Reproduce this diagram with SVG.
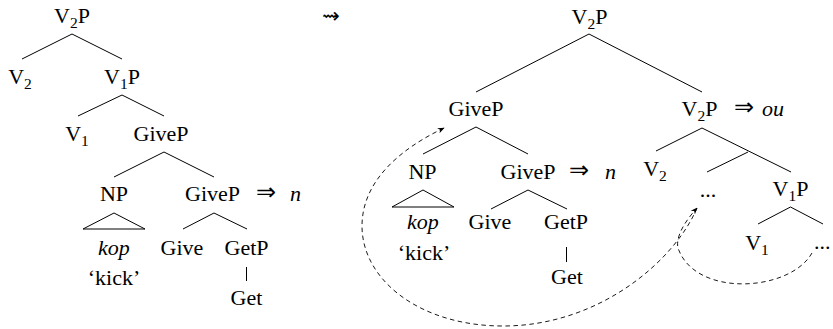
<svg xmlns="http://www.w3.org/2000/svg" width="833" height="329" viewBox="0 0 833 329">
<style>
.t{font-family:'Liberation Serif','Times New Roman','DejaVu Serif',serif;font-size:22px;fill:#000}
.m{text-anchor:middle}
.it{font-style:italic}
.sub{font-size:15.5px}
.arr{font-family:'DejaVu Sans',sans-serif;font-size:24px}
.sq{font-family:'DejaVu Sans',sans-serif;font-size:21px}
.e{stroke:#000;stroke-width:1;fill:none}
.d{stroke:#000;stroke-width:0.9;fill:none;stroke-dasharray:4.5 3.5}
</style>
<defs>
<marker id="ah" viewBox="0 0 10 10" refX="9" refY="5" markerWidth="7" markerHeight="7" markerUnits="userSpaceOnUse" orient="auto">
<path d="M0,1 L10,5 L0,9 L3,5 Z" fill="#000"/>
</marker>
</defs>
<rect width="833" height="329" fill="#fff"/>

<g class="t" font-family="Liberation Serif, Times New Roman, serif" font-size="22">
<!-- Left tree -->
<g id="L-V2P"><text class="m" x="72" y="23">V<tspan class="sub" dy="5">2</tspan><tspan dy="-5">P</tspan></text></g>
<g id="L-V2"><text class="m" x="20" y="84">V<tspan class="sub" dy="5">2</tspan></text></g>
<g id="L-V1P"><text class="m" x="122" y="84">V<tspan class="sub" dy="5">1</tspan><tspan dy="-5">P</tspan></text></g>
<g id="L-V1"><text class="m" x="77" y="141">V<tspan class="sub" dy="5">1</tspan></text></g>
<g id="L-GiveP"><text class="m" x="161" y="141">GiveP</text></g>
<g id="L-NP"><text class="m" x="114" y="201">NP</text></g>
<g id="L-GiveP2"><text class="m" x="212.5" y="201">GiveP</text><text class="arr" x="256" y="200">⇒</text><text class="it" x="290" y="201">n</text></g>
<g id="L-kop"><text class="m it" x="114" y="255">kop</text><text class="m" x="114" y="285">‘kick’</text></g>
<g id="L-Give"><text class="m" x="182" y="255">Give</text></g>
<g id="L-GetP"><text class="m" x="246.5" y="255">GetP</text></g>
<g id="L-Get"><text class="m" x="246.5" y="305">Get</text></g>

<!-- transition -->
<g id="squiggle"><text class="m sq" x="331" y="23">⇝</text></g>

<!-- Right tree -->
<g id="R-V2P"><text class="m" x="589.5" y="24">V<tspan class="sub" dy="5">2</tspan><tspan dy="-5">P</tspan></text></g>
<g id="R-GiveP"><text class="m" x="476" y="116">GiveP</text></g>
<g id="R-V2P2"><text class="m" x="699.5" y="116">V<tspan class="sub" dy="5">2</tspan><tspan dy="-5">P</tspan></text><text class="arr" x="734" y="115">⇒</text><text class="it" x="762" y="116">ou</text></g>
<g id="R-NP"><text class="m" x="422.5" y="179">NP</text></g>
<g id="R-GiveP2"><text class="m" x="528" y="179">GiveP</text><text class="arr" x="569" y="178">⇒</text><text class="it" x="605" y="179">n</text></g>
<g id="R-V2"><text class="m" x="655" y="176">V<tspan class="sub" dy="5">2</tspan></text></g>
<g id="R-dots1"><text class="m" x="708" y="197">...</text></g>
<g id="R-V1P"><text class="m" x="790.5" y="196">V<tspan class="sub" dy="5">1</tspan><tspan dy="-5">P</tspan></text></g>
<g id="R-kop"><text class="m it" x="423" y="229">kop</text><text class="m" x="424" y="260">‘kick’</text></g>
<g id="R-Give"><text class="m" x="490" y="229">Give</text></g>
<g id="R-GetP"><text class="m" x="566" y="229">GetP</text></g>
<g id="R-Get"><text class="m" x="567" y="284">Get</text></g>
<g id="R-V1"><text class="m" x="757" y="250">V<tspan class="sub" dy="5">1</tspan></text></g>
<g id="R-dots2"><text x="814" y="249">...</text></g>
</g>

<g id="connectors">
<!-- left tree -->
<path class="e" d="M22,59 L72,34 L122,59"/>
<path class="e" d="M78,116 L122,95 L164,116"/>
<path class="e" d="M114,177 L164,152 L214,177"/>
<path class="e" d="M83,229 L114,213 L145,229 Z"/>
<path class="e" d="M183,229 L214,213 L247,229"/>
<path class="e" d="M246.5,267 L246.5,281"/>
<!-- right tree -->
<path class="e" d="M476,92 L589,34 L702,92"/>
<path class="e" d="M423,154 L476,127 L528,154"/>
<path class="e" d="M656,151 L702,128 L791,172"/>
<path class="e" d="M707,172 L748,152"/>
<path class="e" d="M392,207 L423,190 L454,207 Z"/>
<path class="e" d="M491,209 L528,190 L567,209"/>
<path class="e" d="M566.5,247 L566.5,262"/>
<path class="e" d="M758,224 L790.5,207 L823,224"/>
<!-- movement arrows -->
<path class="d" marker-end="url(#ah)" d="M697,208 C675,260 600,326 503,326 C420,326 362,280 362,226 C362,180 402,148 444,128"/>
<path class="d" marker-end="url(#ah)" d="M812,253 C790,292 695,298 678,248 C675,235 688,218 697,208"/>
</g>
</svg>
